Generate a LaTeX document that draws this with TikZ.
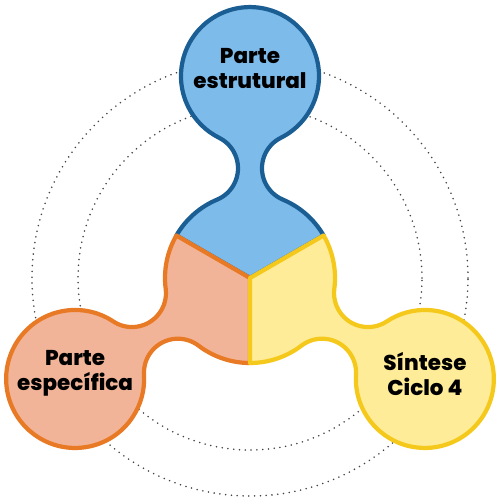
\documentclass[tikz,border=0pt]{standalone}
\usepackage{fontspec}
\setmainfont{Poppins}[BoldFont={Poppins ExtraBold}]
\definecolor{bluefill}{HTML}{7DBBEB}
\definecolor{blueline}{HTML}{1B5E94}
\definecolor{orangefill}{HTML}{F2B498}
\definecolor{orangeline}{HTML}{E87A26}
\definecolor{yellowfill}{HTML}{FFEC98}
\definecolor{yellowline}{HTML}{F5C91C}
\definecolor{dotgray}{HTML}{444444}
\tikzset{
  ring/.style={draw=dotgray, line width=1pt, dash pattern=on 0pt off 3.3pt, line cap=round},
  lobe/.style={line width=2.4pt, line join=round},
  lobetext/.style={font=\bfseries\fontsize{12.2}{14.2}\selectfont, align=center, inner sep=0pt}
}
\begin{document}
\begin{tikzpicture}[x=0.02cm, y=0.02cm]
\useasboundingbox (-250,-222) rectangle (250,278);
\coordinate (hub) at (0,0);
% dotted rings behind the lobes
\draw[ring] (hub) circle[radius=172];
\draw[ring] (hub) circle[radius=218];
% hub sector + neck + round lobe, one per part
\foreach \ang/\fillc/\linec in {0/bluefill/blueline, 120/orangefill/orangeline, -120/yellowfill/yellowline}
  \draw[lobe, fill=\fillc, draw=\linec, rotate=\ang]
    (hub) -- (30:85) arc[start angle=30, end angle=67.27, radius=85]
    arc[start angle=247.27, end angle=116.52, radius=34]
    arc[start angle=-63.48, end angle=243.48, radius=69]
    arc[start angle=63.48, end angle=-67.27, radius=34]
    arc[start angle=112.73, end angle=150, radius=85] -- cycle;
\node[lobetext] (estrutural) at ([yshift=4]90:202) {Parte\\estrutural};
\node[lobetext] (especifica) at ([yshift=3]210:202) {Parte\\específica};
\node[lobetext] (sintese) at ([yshift=3]330:202) {Síntese\\Ciclo 4};
\end{tikzpicture}
\end{document}
